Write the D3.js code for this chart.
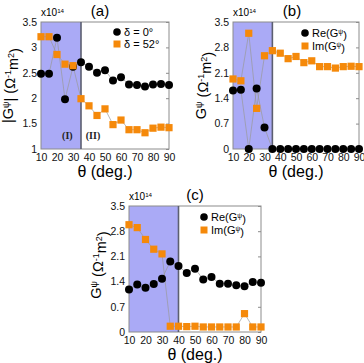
<!DOCTYPE html>
<html>
<head>
<meta charset="utf-8">
<style>
  body { margin: 0; background: #fff; }
  svg { display: block; font-family: "Liberation Sans", Arial, sans-serif; }
  .tick text { font-size: 10.5px; fill: #111; }
  .conn { fill: none; stroke: #9a9a9a; stroke-width: 0.7px; }
</style>
<script src="https://cdn.jsdelivr.net/npm/d3@7"></script>
</head>
<body>
<script>
// angles (deg.)
var theta = [10, 15, 20, 25, 30, 35, 40, 45, 50, 55, 60, 65, 70, 75, 80, 85, 90];

// (a) |G| for two delta values, x1e14
var aDelta0  = [2.48, 2.48, 3.19, 1.98, 2.62, 2.71, 2.62, 2.50, 2.55, 2.35, 2.41, 2.27, 2.26, 2.23, 2.27, 2.28, 2.26];
var aDelta52 = [3.21, 3.21, 2.86, 2.67, 2.64, 1.99, 1.85, 1.66, 1.79, 1.48, 1.57, 1.38, 1.38, 1.32, 1.41, 1.43, 1.42];

// (b) Re / Im
var bRe = [1.61, 1.63, 0, 1.67, 0.59, 0, 0, 0, 0, 0, 0, 0, 0, 0, 0, 0, 0];
var bIm = [1.93, 1.88, 3.19, 1.12, 2.57, 2.71, 2.64, 2.49, 2.55, 2.38, 2.43, 2.27, 2.27, 2.23, 2.27, 2.28, 2.27];

// (c) Re / Im
var cRe = [1.18, 1.32, 1.23, 1.33, 1.48, 1.96, 1.83, 1.64, 1.76, 1.46, 1.53, 1.34, 1.34, 1.30, 1.27, 1.39, 1.37];
var cIm = [2.98, 2.90, 2.57, 2.30, 2.17, 0.16, 0.16, 0.15, 0.16, 0.14, 0.14, 0.14, 0.14, 0.14, 0.51, 0.14, 0.14];

var xTicks  = [10, 20, 30, 40, 50, 60, 70, 80, 90];
var yTicksA = [1, 1.5, 2, 2.5, 3, 3.5];
var yTicksB = [0, 0.7, 1.4, 2.1, 2.8, 3.5];

var orange = "#f5890a";
var shade = "#aaaaf6";

var svg = d3.select("body").append("svg")
  .attr("width", 364)
  .attr("height", 363);

// write text with superscript parts: [["G",0],["ψ",1]]
function rich(t, parts) {
  var up = false;
  parts.forEach(function(p) {
    var s = t.append("tspan").text(p[0]);
    if (p[1] && !up) { s.attr("dy", "-0.45em").attr("font-size", "0.62em"); up = true; }
    else if (!p[1] && up) { s.attr("dy", "0.45em"); up = false; }
    else if (p[1]) { s.attr("font-size", "0.62em"); }
  });
}

function panel(cfg) {
  var w = cfg.w, h = cfg.h;
  var g = svg.append("g").attr("transform", "translate(" + cfg.left + "," + cfg.top + ")");
  var x = d3.scaleLinear().domain([10, 90]).range([0, w]);
  var y = d3.scaleLinear().domain(cfg.yDomain).range([h, 0]);

  g.append("rect")
    .attr("x", 0).attr("y", 0)
    .attr("width", x(cfg.split)).attr("height", h)
    .attr("fill", shade);

  g.append("rect")
    .attr("x", 0).attr("y", 0).attr("width", w).attr("height", h)
    .attr("fill", "none").attr("stroke", "#8c8c8c").attr("stroke-width", 1);

  g.append("line")
    .attr("x1", x(cfg.split)).attr("x2", x(cfg.split))
    .attr("y1", 0).attr("y2", h)
    .attr("stroke", "#5c5f70").attr("stroke-width", 1.6);

  // inner ticks on right side
  g.append("g")
    .attr("transform", "translate(" + w + ",0)")
    .call(d3.axisLeft(y).tickValues(cfg.yTicks).tickSize(3).tickFormat(""))
    .call(function(a) { a.select(".domain").remove(); a.selectAll("line").attr("stroke", "#8c8c8c"); });

  g.append("g")
    .call(d3.axisLeft(y).tickValues(cfg.yTicks).tickSize(0).tickPadding(4).tickFormat(d3.format("~g")))
    .call(function(a) { a.select(".domain").remove(); a.selectAll("text").attr("font-family", null); });

  g.append("g")
    .attr("transform", "translate(0," + h + ")")
    .call(d3.axisBottom(x).tickValues(xTicks).tickSize(0).tickPadding(5))
    .call(function(a) { a.select(".domain").remove(); a.selectAll("text").attr("font-family", null); });

  var line = d3.line()
    .x(function(d, i) { return x(theta[i]); })
    .y(function(d) { return y(d); });

  g.append("path").datum(cfg.s1).attr("class", "conn").attr("d", line);
  g.append("path").datum(cfg.s2).attr("class", "conn").attr("d", line);

  g.selectAll(".dot").data(cfg.s1).enter().append("circle")
    .attr("cx", function(d, i) { return x(theta[i]); })
    .attr("cy", function(d) { return y(d); })
    .attr("r", 4).attr("fill", "#000");

  g.selectAll(".sq").data(cfg.s2).enter().append("rect")
    .attr("x", function(d, i) { return x(theta[i]) - 3.6; })
    .attr("y", function(d) { return y(d) - 3.6; })
    .attr("width", 7.2).attr("height", 7.2).attr("fill", orange);

  // legend
  var lg = g.append("g").attr("transform", "translate(" + cfg.legX + "," + cfg.legY + ")");
  lg.append("circle").attr("cx", 0).attr("cy", 0).attr("r", 3.8).attr("fill", "#000");
  lg.append("rect").attr("x", -3.5).attr("y", cfg.legGap - 3.5).attr("width", 7).attr("height", 7).attr("fill", orange);
  rich(lg.append("text").attr("x", 7).attr("y", 0).attr("dy", "0.36em").attr("font-size", 11), cfg.leg1);
  rich(lg.append("text").attr("x", 7).attr("y", cfg.legGap).attr("dy", "0.36em").attr("font-size", 11), cfg.leg2);

  // x10^14
  rich(g.append("text").attr("x", 0).attr("y", -6).attr("font-size", 10),
    [["x10", 0], ["14", 1]]);

  // panel label
  g.append("text").attr("x", cfg.titleX).attr("y", -6)
    .attr("text-anchor", "middle").attr("font-size", 15).text(cfg.title);

  // x axis title
  g.append("text").attr("x", w / 2).attr("y", h + 28)
    .attr("text-anchor", "middle").attr("font-size", 16).text("θ (deg.)");

  // y axis title
  var yt = g.append("text")
    .attr("transform", "translate(" + cfg.yTitleX + "," + (h / 2 + cfg.yTitleDy) + ") rotate(-90)")
    .attr("text-anchor", "middle").attr("font-size", 14.5);
  rich(yt, cfg.yTitle);

  if (cfg.regions) {
    g.append("text").attr("x", x(26.5)).attr("y", h - 10)
      .attr("text-anchor", "middle").attr("font-family", "Liberation Serif, Times New Roman, serif")
      .attr("font-weight", "bold").attr("font-size", 10).attr("fill", "#222").text("(I)");
    g.append("text").attr("x", x(42.5)).attr("y", h - 10)
      .attr("text-anchor", "middle").attr("font-family", "Liberation Serif, Times New Roman, serif")
      .attr("font-weight", "bold").attr("font-size", 10).attr("fill", "#222").text("(II)");
  }
}

var titleMod = [["|G", 0], ["ψ", 1], ["|  (Ω", 0], ["-1", 1], ["m", 0], ["2", 1], [")", 0]];
var titleG = [["G", 0], ["ψ", 1], ["    (Ω", 0], ["-1", 1], ["m", 0], ["2", 1], [")", 0]];
var legRe = [["Re(G", 0], ["ψ", 1], [")", 0]];
var legIm = [["Im(G", 0], ["ψ", 1], [")", 0]];

panel({
  left: 41, top: 22, w: 128, h: 127,
  yDomain: [1, 3.5], yTicks: yTicksA, split: 35,
  s1: aDelta0, s2: aDelta52,
  legX: 76, legY: 10, legGap: 12,
  leg1: [["δ = 0°", 0]], leg2: [["δ = 52°", 0]],
  title: "(a)", titleX: 59,
  yTitle: titleMod, yTitleX: -28, yTitleDy: 0,
  regions: true
});

panel({
  left: 233, top: 22, w: 126, h: 127,
  yDomain: [0, 3.5], yTicks: yTicksB, split: 35,
  s1: bRe, s2: bIm,
  legX: 72, legY: 11, legGap: 13,
  leg1: legRe, leg2: legIm,
  title: "(b)", titleX: 59,
  yTitle: titleG, yTitleX: -27, yTitleDy: 0
});

panel({
  left: 129, top: 206, w: 132, h: 126,
  yDomain: [0, 3.5], yTicks: yTicksB, split: 40,
  s1: cRe, s2: cIm,
  legX: 75, legY: 11, legGap: 13,
  leg1: legRe, leg2: legIm,
  title: "(c)", titleX: 66,
  yTitle: titleG, yTitleX: -28, yTitleDy: -4
});
</script>
</body>
</html>
